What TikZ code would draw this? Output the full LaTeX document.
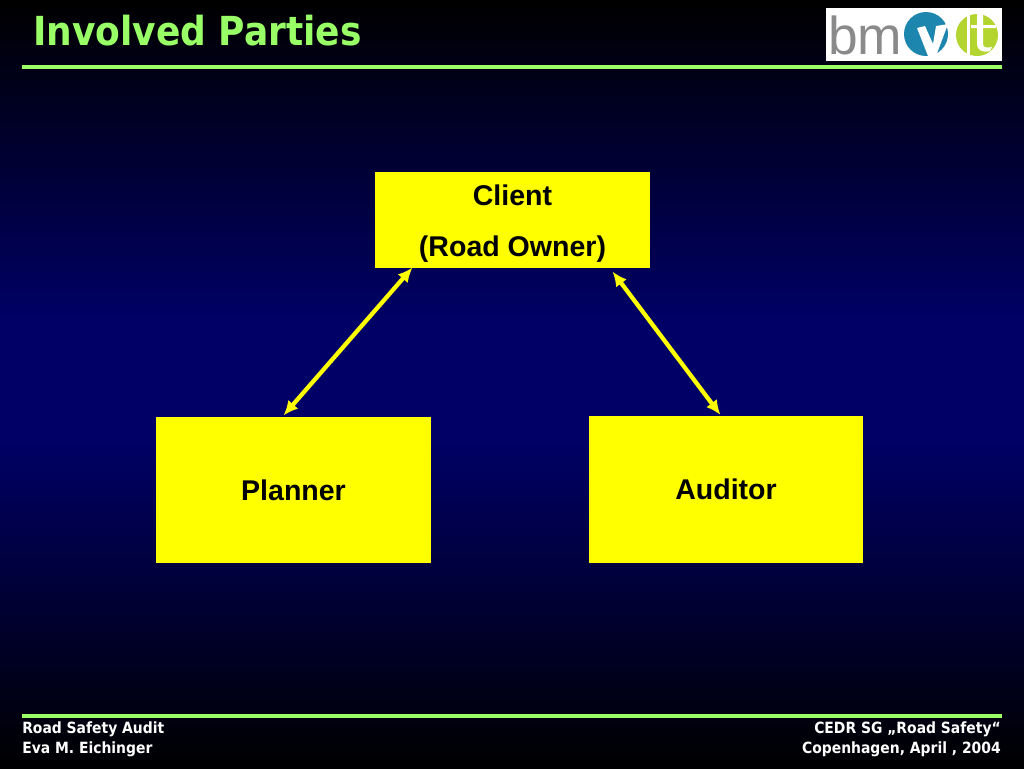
\documentclass[tikz,border=0pt]{standalone}
\usepackage{fontspec}
\setmainfont{Liberation Sans}
\newfontfamily\headfont{DejaVu Sans Condensed}
\usetikzlibrary{arrows.meta, positioning}
\usepackage{xcolor}
\definecolor{titlegreen}{HTML}{99FF66}
\definecolor{boxyellow}{HTML}{FFFF00}
\definecolor{deepnavy}{HTML}{000066}
\definecolor{logoblue}{HTML}{1C86AE}
\definecolor{logogreen}{HTML}{B4D430}
\definecolor{logogray}{HTML}{8A8A8A}

\begin{document}
\begin{tikzpicture}[
x=0.75pt, y=-0.75pt,
box/.style={fill=boxyellow, rectangle, minimum width=206pt, minimum height=110pt, align=center, inner sep=0pt, font=\fontsize{21.4}{38.2}\selectfont\bfseries},
arrow/.style={{Latex[length=11pt,width=10pt]}-{Latex[length=11pt,width=10pt]}, boxyellow, line width=3.2pt},
rule/.style={titlegreen, line width=2.4pt},
foot/.style={white, inner sep=0pt, font=\headfont\fontsize{11.6}{15.7}\selectfont\bfseries}]

\useasboundingbox (0,0) rectangle (1024,768);
\shade[top color=black, bottom color=deepnavy] (0,0) rectangle (1024,320);
\fill[deepnavy] (0,319.5) rectangle (1024,440.5);
\shade[top color=deepnavy, bottom color=black] (0,440) rectangle (1024,768);

\node[anchor=base west, inner sep=0pt, text=titlegreen, font=\headfont\fontsize{30}{32}\selectfont\bfseries] (title) at (33,45) {Involved Parties};
\draw[rule] (22,67) -- (1002,67);
\draw[rule] (22,716) -- (1002,716);

% logo
\node[fill=white, minimum width=132pt, minimum height=39.75pt, inner sep=0pt] (logo) at (914,34.5) {};
\node[text=logogray, inner sep=0pt, anchor=base west, font=\fontsize{40}{41}\selectfont] (bm) at (828,54) {bm};
\fill[logoblue] (926,34) circle[radius=22];
\fill[white] (917,28) -- (925,26) -- (933,44) -- (936,26) -- (948,24) -- (936,56) -- (928,56) -- cycle;
\fill[logogreen] (977,35) circle[radius=21];
\fill[white] (967,13) rectangle (969.5,57);
\fill[white] (977,13) -- (983,13) -- (983,25) -- (996,25) -- (996,28) -- (983,28) -- (983,44) .. controls (983,48) and (987,48) .. (992,47) -- (990,51) .. controls (982,53) and (977,50) .. (977,44) -- (977,28) -- (971,28) -- (971,25) -- (977,25) -- cycle;

\node[box, minimum height=72pt] (client) at (512.5,220) {\rule{0pt}{21.5pt}Client\\(Road Owner)};
\node[box] (planner) at (293.5,490) {Planner};
\node[box] (auditor) at (726,489.5) {Auditor};

\coordinate (clientl) at (412.5,267.5);
\coordinate (clientr) at (612.5,271.5);
\coordinate (plannert) at (283.5,415.5);
\coordinate (auditort) at (720.5,415);

\draw[arrow] (clientl) -- (plannert);
\draw[arrow] (clientr) -- (auditort);

\node[foot, anchor=north west, align=left] (footl) at (22,721) {Road Safety Audit\\Eva M. Eichinger};
\node[foot, anchor=north east, align=right] (footr) at (1001,721) {CEDR SG „Road Safety“\\Copenhagen, April , 2004};

\end{tikzpicture}
\end{document}
